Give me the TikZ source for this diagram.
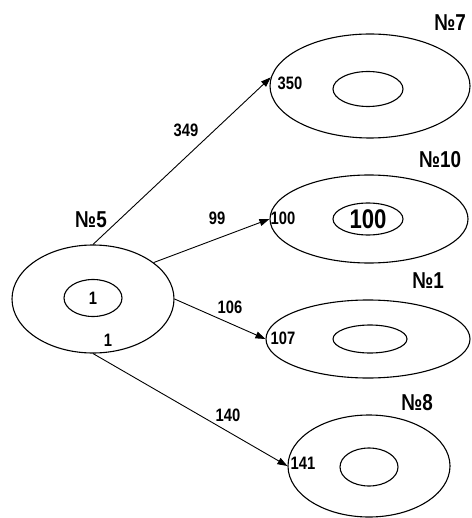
\documentclass[tikz,border=0pt]{standalone}
\usepackage{fontspec}
\setmainfont{Liberation Sans}[FakeStretch=0.82]
\usepackage{tikz}
\usetikzlibrary{arrows.meta,shapes.geometric}

\begin{document}
\begin{tikzpicture}[x=1pt,y=-1pt,>={Triangle[length=10pt,width=7pt]},
  ring/.style={ellipse,draw,line width=1.1pt,inner sep=0pt},
  core/.style={ellipse,draw,line width=1.1pt,inner sep=0pt,font=\fontsize{27}{27}\selectfont\bfseries},
  lbl/.style={inner sep=0pt,font=\fontsize{18}{18}\selectfont\bfseries},
  ttl/.style={inner sep=0pt,font=\fontsize{23}{23}\selectfont\bfseries}]
  \useasboundingbox (0,0) rectangle (471,518);
  % outer rings
  \node[ring,minimum width=162pt,minimum height=108pt](o5) at (93,299){};
  \node[ring,minimum width=200pt,minimum height=104pt](o7) at (370,86){};
  \node[ring,minimum width=198pt,minimum height=88pt](o10) at (369,219){};
  \node[ring,minimum width=204pt,minimum height=78pt](o1) at (368,339){};
  \node[ring,minimum width=162pt,minimum height=102pt](o8) at (369,466){};
  % inner rings
  \node[core,minimum width=58pt,minimum height=37pt,font=\fontsize{18}{18}\selectfont\bfseries](i5) at (93,298){1};
  \node[core,minimum width=70pt,minimum height=35pt](i7) at (368,89){};
  \node[core,minimum width=70pt,minimum height=32pt](i10) at (368,219){100};
  \node[core,minimum width=74pt,minimum height=28pt](i1) at (370,339){};
  \node[core,minimum width=58pt,minimum height=38pt](i8) at (369,467){};
  % arrows
  \draw[->,line width=0.9pt] (o5.north)--(o7.175);
  \draw[->,line width=0.9pt] (o5.31)--(o10.west);
  \draw[->,line width=0.9pt] (o5.east)--(o1.west);
  \draw[->,line width=0.9pt] (o5.south)--(o8.west);
  % titles
  \node[ttl](t5) at (91,220){№5};
  \node[ttl](t7) at (450,23){№7};
  \node[ttl](t10) at (440,160){№10};
  \node[ttl](t1) at (428,281){№1};
  \node[ttl](t8) at (417,403){№8};
  % numbers
  \node[lbl](v5) at (108,340){1};
  \node[lbl](v7) at (290,83){350};
  \node[lbl](v10) at (283,218){100};
  \node[lbl](v1) at (283,338){107};
  \node[lbl](v8) at (303,463){141};
  \node[lbl](w7) at (186,130){349};
  \node[lbl](w10) at (217,218){99};
  \node[lbl](w1) at (230,307){106};
  \node[lbl](w8) at (228,415){140};
\end{tikzpicture}
\end{document}
